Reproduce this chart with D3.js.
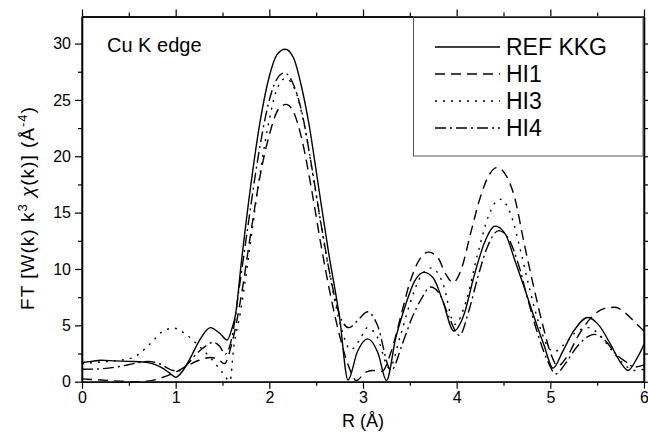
<!DOCTYPE html>
<html>
<head>
<meta charset="utf-8">
<script src="https://cdn.jsdelivr.net/npm/d3@7"></script>
<style>
  html, body { margin: 0; padding: 0; background: #fff; }
  svg { display: block; font-family: "Liberation Sans", Arial, sans-serif; }
</style>
</head>
<body>
<svg id="chart" width="648" height="436"></svg>
<script>
// Fourier-transform magnitudes of k^3-weighted EXAFS at the Cu K edge.
// Each series: radial distance R (Å) and |FT| value.
const rRef = [0, 0.1, 0.2, 0.35, 0.5, 0.65, 0.75, 0.85, 0.93, 1.0, 1.07, 1.15, 1.25, 1.37, 1.47, 1.55, 1.6, 1.64, 1.7, 1.8, 1.9, 2.0, 2.08, 2.17, 2.26, 2.34, 2.42, 2.52, 2.63, 2.75, 2.84, 2.94, 3.05, 3.16, 3.25, 3.35, 3.45, 3.55, 3.65, 3.75, 3.85, 3.97, 4.08, 4.18, 4.3, 4.41, 4.52, 4.62, 4.72, 4.82, 4.93, 5.03, 5.13, 5.25, 5.4, 5.52, 5.65, 5.75, 5.83, 5.92, 6.0];
const ftRef = [1.7, 1.8, 1.9, 1.85, 1.8, 1.75, 1.6, 1.25, 0.8, 0.4, 0.9, 2.0, 3.6, 4.8, 4.3, 3.7, 4.7, 6.0, 10.5, 17.3, 23.0, 27.1, 29.0, 29.5, 28.7, 26.3, 23.0, 17.6, 11.6, 5.7, 0.15, 2.65, 3.8, 2.55, 0.1, 3.9, 6.7, 8.9, 9.7, 9.2, 7.2, 4.5, 6.0, 9.2, 12.4, 13.8, 13.1, 10.8, 8.4, 5.9, 3.3, 1.2, 2.65, 4.5, 5.7, 5.0, 3.2, 1.7, 1.0, 2.0, 3.3];

const rHi1 = [0, 0.2, 0.4, 0.55, 0.7, 0.85, 1.0, 1.12, 1.25, 1.37, 1.45, 1.52, 1.6, 1.7, 1.8, 1.9, 2.0, 2.1, 2.18, 2.26, 2.35, 2.45, 2.55, 2.65, 2.75, 2.85, 2.93, 3.02, 3.1, 3.2, 3.3, 3.4, 3.5, 3.6, 3.7, 3.8, 3.88, 3.96, 4.05, 4.15, 4.25, 4.35, 4.43, 4.52, 4.62, 4.72, 4.82, 4.92, 5.0, 5.08, 5.18, 5.3, 5.45, 5.58, 5.69, 5.8, 5.9, 6.0];
const ftHi1 = [0.25, 0.15, 0.05, 0.0, 0.05, 0.35, 0.85, 1.4, 1.9, 2.15, 2.0, 1.6, 3.4, 7.6, 13.1, 18.2, 21.9, 24.2, 24.6, 23.9, 21.4, 17.1, 12.2, 7.8, 4.1, 1.3, 0.1, 0.8, 1.0, 0.9, 2.65, 5.7, 8.8, 10.8, 11.5, 11.0, 9.6, 8.8, 10.0, 13.2, 16.3, 18.4, 19.0, 18.4, 16.3, 12.3, 8.5, 5.0, 2.6, 1.4, 2.25, 4.1, 5.8, 6.5, 6.6, 6.1, 5.3, 4.5];

const rHi3 = [0, 0.2, 0.4, 0.55, 0.62, 0.75, 0.85, 0.98, 1.11, 1.25, 1.38, 1.5, 1.58, 1.62, 1.69, 1.78, 1.88, 1.98, 2.07, 2.17, 2.27, 2.37, 2.47, 2.57, 2.67, 2.77, 2.87, 2.96, 3.05, 3.15, 3.28, 3.4, 3.5, 3.6, 3.73, 3.85, 3.98, 4.1, 4.22, 4.34, 4.46, 4.58, 4.68, 4.78, 4.88, 4.96, 5.04, 5.14, 5.26, 5.4, 5.52, 5.65, 5.78, 5.9, 6.0];
const ftHi3 = [1.6, 1.75, 1.9, 2.15, 2.55, 3.55, 4.4, 4.75, 4.2, 3.15, 2.05, 0.8, 0.05, 3.05, 6.1, 11.2, 17.3, 22.4, 25.7, 26.9, 26.0, 22.9, 18.1, 13.0, 8.4, 4.7, 2.85, 3.65, 4.8, 4.0, 1.2, 4.1, 6.9, 9.1, 10.1, 8.8, 5.1, 7.1, 11.2, 14.7, 16.2, 14.8, 11.7, 8.2, 5.1, 3.3, 2.65, 3.25, 4.3, 4.8, 4.2, 2.85, 1.6, 1.0, 1.1];

const rHi4 = [0, 0.2, 0.4, 0.55, 0.7, 0.85, 0.95, 1.03, 1.12, 1.22, 1.32, 1.4, 1.47, 1.53, 1.6, 1.68, 1.78, 1.88, 1.98, 2.07, 2.16, 2.25, 2.35, 2.45, 2.55, 2.65, 2.75, 2.85, 2.95, 3.05, 3.15, 3.3, 3.42, 3.52, 3.62, 3.72, 3.82, 3.92, 4.03, 4.13, 4.23, 4.33, 4.45, 4.56, 4.66, 4.76, 4.86, 4.96, 5.06, 5.16, 5.28, 5.4, 5.47, 5.58, 5.7, 5.8, 5.9, 6.0];
const ftHi4 = [1.1, 1.15, 1.35, 1.6, 1.8, 1.5, 1.05, 0.95, 1.5, 2.45, 3.15, 3.5, 3.15, 2.45, 3.9, 8.4, 14.3, 19.9, 24.3, 26.7, 27.4, 26.5, 23.8, 19.2, 14.1, 9.4, 5.9, 4.8, 5.5, 6.2, 5.1, 1.0, 3.35, 5.6, 7.3, 8.4, 7.75, 5.7, 4.1, 6.3, 9.4, 12.0, 13.4, 12.6, 10.4, 7.3, 4.4, 2.05, 0.7, 1.6, 3.05, 4.0, 4.2, 3.7, 2.45, 1.8, 1.3, 1.5];

const seriesNames = ["REF KKG", "HI1", "HI3", "HI4"];
const seriesDash = [null, "10,6", "2,6", "11,4,2,4"];
const xTicks = [0, 1, 2, 3, 4, 5, 6];
const yTicks = [0, 5, 10, 15, 20, 25, 30];

const series = [
  { name: seriesNames[0], r: rRef, v: ftRef, dash: seriesDash[0] },
  { name: seriesNames[1], r: rHi1, v: ftHi1, dash: seriesDash[1] },
  { name: seriesNames[2], r: rHi3, v: ftHi3, dash: seriesDash[2] },
  { name: seriesNames[3], r: rHi4, v: ftHi4, dash: seriesDash[3] }
];

const svg = d3.select("#chart");
const W = 648, H = 436;
const m = { left: 82, right: 4, top: 16.5, bottom: 54.3 };
const iw = W - m.left - m.right, ih = H - m.top - m.bottom;

const x = d3.scaleLinear().domain([0, 6]).range([0, iw]);
const y = d3.scaleLinear().domain([0, 32.4]).range([ih, 0]);

const g = svg.append("g").attr("transform", `translate(${m.left},${m.top})`);

g.append("clipPath").attr("id", "plotclip")
  .append("rect").attr("x", 0).attr("y", 0).attr("width", iw).attr("height", ih);

// legend frame sits under the curves and axes
const lg = svg.append("g");
const boxX = 413.5, boxBottom = 156;
lg.append("rect")
  .attr("x", boxX).attr("y", m.top)
  .attr("width", m.left + iw - 1 - boxX).attr("height", boxBottom - m.top)
  .attr("fill", "none").attr("stroke", "#555").attr("stroke-width", 1);

// curves
const line = d3.line()
  .x(d => x(d[0]))
  .y(d => y(d[1]))
  .curve(d3.curveMonotoneX);

const curves = g.append("g").attr("clip-path", "url(#plotclip)");
series.forEach(s => {
  const pts = s.r.map((r, i) => [r, s.v[i]]);
  curves.append("path")
    .datum(pts)
    .attr("d", line)
    .attr("fill", "none")
    .attr("stroke", "#000")
    .attr("stroke-width", 1.4)
    .attr("stroke-dasharray", s.dash);
});

// axes: all ticks point outward
const xMinor = d3.range(0.5, 6, 1);
const yMinor = d3.range(2.5, 32, 5);

function styleAxis(sel) {
  sel.selectAll(".domain").attr("stroke", "#000").attr("stroke-width", 1.3);
  sel.selectAll(".tick line").attr("stroke", "#000").attr("stroke-width", 1.2);
  sel.selectAll(".tick text").attr("fill", "#000")
    .style("font-size", "16px").style("font-family", "'Liberation Sans', Arial, sans-serif");
}

const gx = g.append("g").attr("transform", `translate(0,${ih})`)
  .call(d3.axisBottom(x).tickValues(xTicks).tickFormat(d3.format("d")).tickSize(7).tickSizeOuter(0).tickPadding(3));
styleAxis(gx);
const gxm = g.append("g").attr("transform", `translate(0,${ih})`)
  .call(d3.axisBottom(x).tickValues(xMinor).tickFormat("").tickSize(4).tickSizeOuter(0));
styleAxis(gxm);

const gy = g.append("g")
  .call(d3.axisLeft(y).tickValues(yTicks).tickFormat(d3.format("d")).tickSize(7).tickSizeOuter(0).tickPadding(4));
styleAxis(gy);
const gym = g.append("g")
  .call(d3.axisLeft(y).tickValues(yMinor).tickFormat("").tickSize(4).tickSizeOuter(0));
styleAxis(gym);

const gt = g.append("g")
  .call(d3.axisTop(x).tickValues(xTicks).tickFormat("").tickSize(7).tickSizeOuter(0));
styleAxis(gt);
const gtm = g.append("g")
  .call(d3.axisTop(x).tickValues(xMinor).tickFormat("").tickSize(4).tickSizeOuter(0));
styleAxis(gtm);
const gr = g.append("g").attr("transform", `translate(${iw},0)`)
  .call(d3.axisRight(y).tickValues(yTicks).tickFormat("").tickSize(7).tickSizeOuter(0));
styleAxis(gr);
const grm = g.append("g").attr("transform", `translate(${iw},0)`)
  .call(d3.axisRight(y).tickValues(yMinor).tickFormat("").tickSize(4).tickSizeOuter(0));
styleAxis(grm);
// close the frame up to the top edge
g.append("line").attr("x1", 0).attr("x2", 0).attr("y1", 0).attr("y2", ih).attr("stroke", "#000").attr("stroke-width", 1.3);
g.append("line").attr("x1", iw).attr("x2", iw).attr("y1", 0).attr("y2", ih).attr("stroke", "#000").attr("stroke-width", 1.3);

// axis titles
svg.append("text")
  .attr("x", m.left + iw / 2).attr("y", 427)
  .attr("text-anchor", "middle")
  .style("font-size", "18px")
  .text("R (Å)");

const yt = svg.append("text")
  .attr("transform", `translate(34,208) rotate(-90)`)
  .attr("text-anchor", "middle")
  .style("font-size", "19px")
  .style("letter-spacing", "1px");
yt.append("tspan").text("FT [W(k) k");
yt.append("tspan").attr("dy", -7).style("font-size", "13px").text("3");
yt.append("tspan").attr("dy", 7).text(" ");
yt.append("tspan").style("font-style", "italic").text("χ");
yt.append("tspan").text("(k)] (Å");
yt.append("tspan").attr("dy", -7).style("font-size", "13px").text("-4");
yt.append("tspan").attr("dy", 7).text(")");

// panel label
svg.append("text")
  .attr("x", 107).attr("y", 52)
  .style("font-size", "20px")
  .text("Cu K edge");

// legend entries
series.forEach((s, i) => {
  const ly = 47 + i * 27;
  lg.append("line")
    .attr("x1", 435).attr("x2", 500).attr("y1", ly).attr("y2", ly)
    .attr("stroke", "#000").attr("stroke-width", 1.4)
    .attr("stroke-dasharray", s.dash);
  lg.append("text")
    .attr("x", 506).attr("y", ly + 8)
    .style("font-size", "23px")
    .text(s.name);
});
</script>
</body>
</html>
